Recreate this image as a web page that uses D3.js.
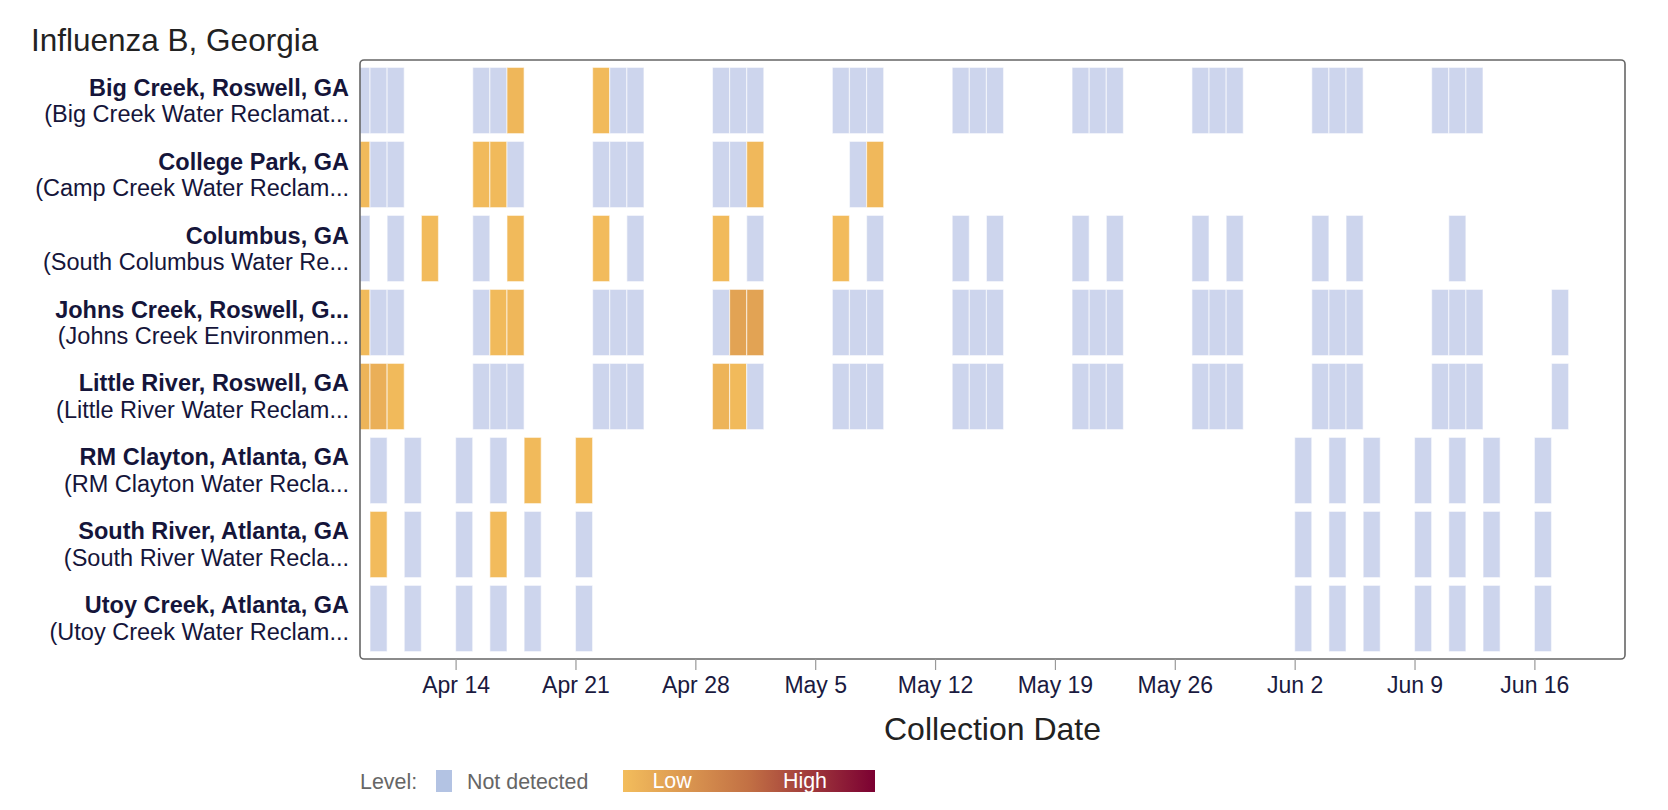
<!DOCTYPE html>
<html>
<head>
<meta charset="utf-8">
<script src="https://cdn.jsdelivr.net/npm/d3@7"></script>
<style>
  html, body { margin: 0; padding: 0; background: #fff; }
  svg { display: block; font-family: "Liberation Sans", Arial, sans-serif; }
</style>
</head>
<body>
<svg id="chart" width="1668" height="810"></svg>
<script>
// ---- Data (level 0 = not detected; >0 = relative level on the Low→High scale) ----
const siteNames = [
  "Big Creek, Roswell, GA",
  "College Park, GA",
  "Columbus, GA",
  "Johns Creek, Roswell, G...",
  "Little River, Roswell, GA",
  "RM Clayton, Atlanta, GA",
  "South River, Atlanta, GA",
  "Utoy Creek, Atlanta, GA"
];
const siteFacilities = [
  "(Big Creek Water Reclamat...",
  "(Camp Creek Water Reclam...",
  "(South Columbus Water Re...",
  "(Johns Creek Environmen...",
  "(Little River Water Reclam...",
  "(RM Clayton Water Recla...",
  "(South River Water Recla...",
  "(Utoy Creek Water Reclam..."
];

const bigCreek = [
  ["2024-04-08",0],["2024-04-09",0],["2024-04-10",0],
  ["2024-04-15",0],["2024-04-16",0],["2024-04-17",4],
  ["2024-04-22",2],["2024-04-23",0],["2024-04-24",0],
  ["2024-04-29",0],["2024-04-30",0],["2024-05-01",0],
  ["2024-05-06",0],["2024-05-07",0],["2024-05-08",0],
  ["2024-05-13",0],["2024-05-14",0],["2024-05-15",0],
  ["2024-05-20",0],["2024-05-21",0],["2024-05-22",0],
  ["2024-05-27",0],["2024-05-28",0],["2024-05-29",0],
  ["2024-06-03",0],["2024-06-04",0],["2024-06-05",0],
  ["2024-06-10",0],["2024-06-11",0],["2024-06-12",0]
];
const collegePark = [
  ["2024-04-08",2],["2024-04-09",0],["2024-04-10",0],
  ["2024-04-15",2],["2024-04-16",2],["2024-04-17",0],
  ["2024-04-22",0],["2024-04-23",0],["2024-04-24",0],
  ["2024-04-29",0],["2024-04-30",0],["2024-05-01",3],
  ["2024-05-07",0],["2024-05-08",3]
];
const columbus = [
  ["2024-04-08",0],["2024-04-10",0],["2024-04-12",1],
  ["2024-04-15",0],["2024-04-17",2],
  ["2024-04-22",1],["2024-04-24",0],
  ["2024-04-29",2],["2024-05-01",0],
  ["2024-05-06",1],["2024-05-08",0],
  ["2024-05-13",0],["2024-05-15",0],
  ["2024-05-20",0],["2024-05-22",0],
  ["2024-05-27",0],["2024-05-29",0],
  ["2024-06-03",0],["2024-06-05",0],
  ["2024-06-11",0]
];
const johnsCreek = [
  ["2024-04-08",2],["2024-04-09",0],["2024-04-10",0],
  ["2024-04-15",0],["2024-04-16",2],["2024-04-17",4],
  ["2024-04-22",0],["2024-04-23",0],["2024-04-24",0],
  ["2024-04-29",0],["2024-04-30",17],["2024-05-01",17],
  ["2024-05-06",0],["2024-05-07",0],["2024-05-08",0],
  ["2024-05-13",0],["2024-05-14",0],["2024-05-15",0],
  ["2024-05-20",0],["2024-05-21",0],["2024-05-22",0],
  ["2024-05-27",0],["2024-05-28",0],["2024-05-29",0],
  ["2024-06-03",0],["2024-06-04",0],["2024-06-05",0],
  ["2024-06-10",0],["2024-06-11",0],["2024-06-12",0],
  ["2024-06-17",0]
];
const littleRiver = [
  ["2024-04-08",6],["2024-04-09",9],["2024-04-10",2],
  ["2024-04-15",0],["2024-04-16",0],["2024-04-17",0],
  ["2024-04-22",0],["2024-04-23",0],["2024-04-24",0],
  ["2024-04-29",6],["2024-04-30",2],["2024-05-01",0],
  ["2024-05-06",0],["2024-05-07",0],["2024-05-08",0],
  ["2024-05-13",0],["2024-05-14",0],["2024-05-15",0],
  ["2024-05-20",0],["2024-05-21",0],["2024-05-22",0],
  ["2024-05-27",0],["2024-05-28",0],["2024-05-29",0],
  ["2024-06-03",0],["2024-06-04",0],["2024-06-05",0],
  ["2024-06-10",0],["2024-06-11",0],["2024-06-12",0],
  ["2024-06-17",0]
];
const rmClayton = [
  ["2024-04-09",0],["2024-04-11",0],["2024-04-14",0],["2024-04-16",0],
  ["2024-04-18",2],["2024-04-21",1],
  ["2024-06-02",0],["2024-06-04",0],["2024-06-06",0],["2024-06-09",0],
  ["2024-06-11",0],["2024-06-13",0],["2024-06-16",0]
];
const southRiver = [
  ["2024-04-09",1],["2024-04-11",0],["2024-04-14",0],["2024-04-16",1],
  ["2024-04-18",0],["2024-04-21",0],
  ["2024-06-02",0],["2024-06-04",0],["2024-06-06",0],["2024-06-09",0],
  ["2024-06-11",0],["2024-06-13",0],["2024-06-16",0]
];
const utoyCreek = [
  ["2024-04-09",0],["2024-04-11",0],["2024-04-14",0],["2024-04-16",0],
  ["2024-04-18",0],["2024-04-21",0],
  ["2024-06-02",0],["2024-06-04",0],["2024-06-06",0],["2024-06-09",0],
  ["2024-06-11",0],["2024-06-13",0],["2024-06-16",0]
];
const siteSamples = [bigCreek, collegePark, columbus, johnsCreek, littleRiver, rmClayton, southRiver, utoyCreek];

const legendLabels = ["Level:", "Not detected", "Low", "High"];
const gradientColors = ["#f3bd5c", "#c27044", "#7b0032"];

// ---- Layout ----
const svg = d3.select("#chart");
const plot = { left: 360, top: 60, right: 1625, bottom: 659 };
const parse = d3.utcParse("%Y-%m-%d");

const x = d3.scaleUtc()
  .domain([new Date(Date.UTC(2024, 3, 8, 10)), new Date(Date.UTC(2024, 5, 21, 7))])
  .range([plot.left, plot.right]);

const y = d3.scaleBand()
  .domain(d3.range(siteNames.length))
  .range([plot.top, plot.bottom])
  .paddingInner(0.105)
  .paddingOuter(0.1);

const levelColor = d3.scaleLinear()
  .domain([0, 50, 100])
  .range(gradientColors)
  .interpolate(d3.interpolateRgb)
  .clamp(true);
const notDetected = "#cdd5ed";

// clip
svg.append("defs").append("clipPath").attr("id", "plotClip")
  .append("rect")
  .attr("x", plot.left).attr("y", plot.top)
  .attr("width", plot.right - plot.left).attr("height", plot.bottom - plot.top);

// cells
const cells = [];
siteSamples.forEach((arr, i) => arr.forEach(([d, v]) => cells.push({ site: i, date: parse(d), level: v })));

svg.append("g").attr("clip-path", "url(#plotClip)")
  .selectAll("rect").data(cells).join("rect")
  .attr("x", d => x(d.date))
  .attr("width", d => x(d3.utcDay.offset(d.date, 1)) - x(d.date))
  .attr("y", d => y(d.site))
  .attr("height", y.bandwidth())
  .attr("fill", d => d.level > 0 ? levelColor(d.level) : notDetected)
  .attr("stroke", "rgba(255,255,255,0.55)")
  .attr("stroke-width", 1.2);

// plot border
svg.append("rect")
  .attr("x", plot.left).attr("y", plot.top)
  .attr("width", plot.right - plot.left).attr("height", plot.bottom - plot.top)
  .attr("rx", 4).attr("ry", 4)
  .attr("fill", "none").attr("stroke", "#666").attr("stroke-width", 1.6);

// x axis
const xAxis = d3.axisBottom(x)
  .ticks(d3.utcSunday.every(1))
  .tickFormat(d3.utcFormat("%b %-d"))
  .tickSize(11)
  .tickSizeOuter(0);
const gx = svg.append("g").attr("transform", `translate(0,${plot.bottom})`).call(xAxis);
gx.select(".domain").remove();
gx.selectAll(".tick line").attr("stroke", "#999").attr("stroke-width", 1.2);
gx.selectAll(".tick text")
  .attr("y", 18).attr("dy", "0.71em")
  .attr("fill", "#1a1a40").attr("font-size", 23)
  .attr("font-family", "\"Liberation Sans\", Arial, sans-serif");

svg.append("text")
  .attr("x", (plot.left + plot.right) / 2).attr("y", 740)
  .attr("text-anchor", "middle")
  .attr("font-size", 32).attr("fill", "#222")
  .text("Collection Date");

// y labels
const gy = svg.append("g");
siteNames.forEach((name, i) => {
  const cy = y(i) + y.bandwidth() / 2;
  const t = gy.append("text").attr("text-anchor", "end").attr("fill", "#15153a").attr("font-size", 23.5);
  t.append("tspan").attr("x", 349).attr("y", cy - 5).attr("font-weight", "bold").text(name);
  t.append("tspan").attr("x", 349).attr("y", cy + 21.5).text(siteFacilities[i]);
});

// title
svg.append("text")
  .attr("x", 31).attr("y", 51)
  .attr("font-size", 31.5).attr("fill", "#222")
  .text("Influenza B, Georgia");

// legend
const lg = svg.append("g");
lg.append("text").attr("x", 360).attr("y", 789).attr("font-size", 21.4).attr("fill", "#666").text(legendLabels[0]);
lg.append("rect").attr("x", 436).attr("y", 770).attr("width", 16).attr("height", 22).attr("fill", "#b3c3e3");
lg.append("text").attr("x", 467).attr("y", 789).attr("font-size", 21.4).attr("fill", "#666").text(legendLabels[1]);

const grad = svg.select("defs").append("linearGradient").attr("id", "levelGrad");
gradientColors.forEach((c, i) => grad.append("stop").attr("offset", `${i * 50}%`).attr("stop-color", c));
lg.append("rect").attr("x", 623).attr("y", 770).attr("width", 252).attr("height", 22).attr("fill", "url(#levelGrad)");
lg.append("text").attr("x", 672).attr("y", 788).attr("text-anchor", "middle").attr("font-size", 21.4).attr("fill", "#fff").text(legendLabels[2]);
lg.append("text").attr("x", 805).attr("y", 788).attr("text-anchor", "middle").attr("font-size", 21.4).attr("fill", "#fff").text(legendLabels[3]);
</script>
</body>
</html>
